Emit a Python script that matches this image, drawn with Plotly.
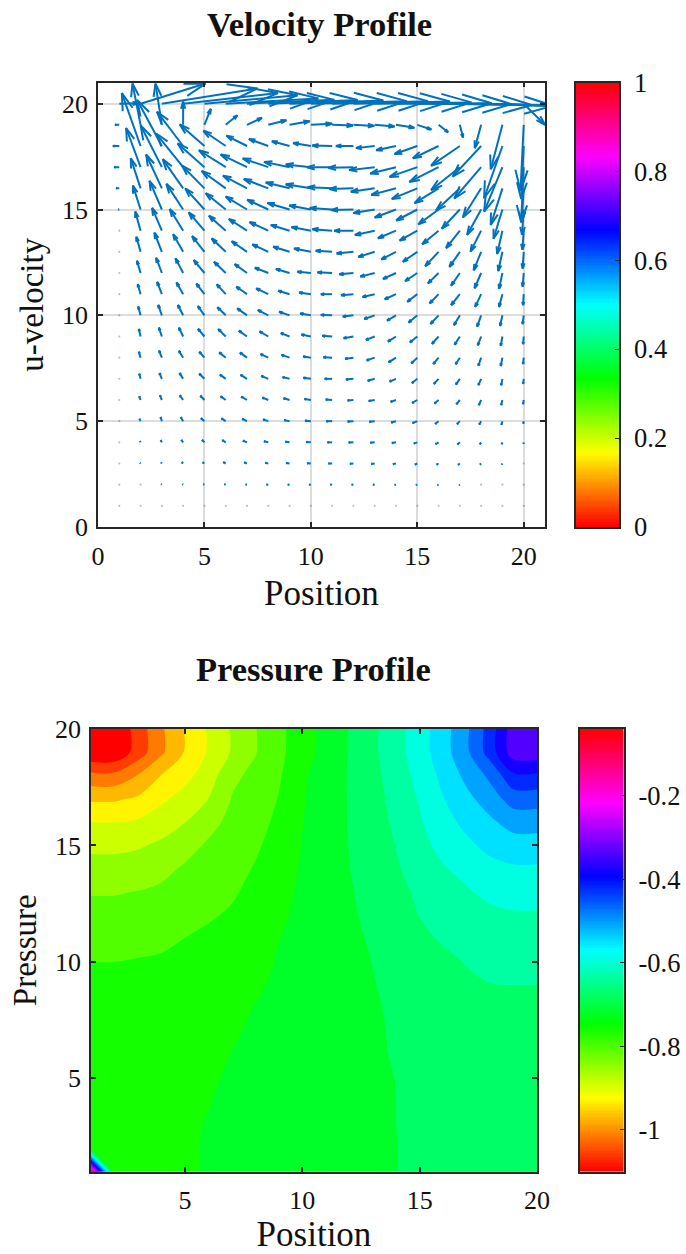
import numpy as np
import plotly.graph_objects as go

W, H = 686, 1254
FONT = "Liberation Serif"
ARROW = "#0072BD"
grid_x = list(range(1, 21))
grid_y = list(range(20, 0, -1))

u_rows = [
 [.9,3.05,4.5,4.45,4.37,4.35,4.1,4.2,4.4,4.5,4.5,4.53,4.54,4.5,4.43,4.37,4.39,4.4,4.3,1.0],
 [-.2,-.38,-.3,0,.3,.55,.7,.85,.95,1.0,.98,.98,.93,.86,.66,.45,.15,-.3,-.55,-.15],
 [-.3,-.88,-1.16,-1.23,-1.16,-1.05,-.97,-.91,-.83,-.83,-.93,-.82,-.88,-.93,-1.07,-1.21,-1.35,-1.34,-.86,-.12],
 [-.24,-.68,-1,-1.27,-1.26,-1.26,-1.24,-1.2,-1.2,-1.18,-1.18,-1.18,-1.2,-1.21,-1.3,-1.37,-1.35,-1.26,-.86,-.12],
 [-.15,-.46,-.74,-.96,-1.05,-1.13,-1.13,-1.15,-1.12,-1.18,-1.15,-1.13,-1.12,-1.16,-1.2,-1.13,-1.12,-.86,-.55,-.1],
 [-.05,-.36,-.58,-.79,-.9,-.94,-1,-.99,-1.04,-1.02,-1.05,-1.05,-1,-1,-.99,-.95,-.85,-.66,-.42,-.08],
 [0,-.25,-.46,-.63,-.74,-.79,-.85,-.88,-.88,-.91,-.93,-.9,-.93,-.85,-.83,-.77,-.65,-.5,-.25,-.06],
 [0,-.2,-.35,-.47,-.58,-.66,-.72,-.75,-.77,-.79,-.77,-.79,-.77,-.69,-.68,-.63,-.49,-.35,-.2,-.05],
 [0,-.17,-.27,-.36,-.5,-.55,-.58,-.63,-.64,-.63,-.69,-.66,-.68,-.61,-.57,-.5,-.41,-.31,-.16,-.05],
 [0,-.13,-.22,-.31,-.38,-.42,-.5,-.57,-.53,-.55,-.53,-.58,-.57,-.53,-.47,-.42,-.41,-.28,-.16,-.03],
 [0,-.11,-.17,-.25,-.31,-.39,-.46,-.49,-.49,-.5,-.53,-.5,-.49,-.42,-.41,-.38,-.28,-.19,-.11,-.05],
 [0,-.08,-.14,-.2,-.3,-.35,-.38,-.41,-.41,-.44,-.46,-.46,-.41,-.38,-.35,-.31,-.25,-.16,-.08,-.03],
 [0,-.08,-.13,-.2,-.24,-.3,-.33,-.36,-.38,-.36,-.41,-.39,-.38,-.35,-.28,-.25,-.2,-.13,-.08,-.03],
 [0,-.06,-.11,-.17,-.24,-.27,-.3,-.33,-.33,-.35,-.35,-.35,-.33,-.3,-.25,-.22,-.19,-.13,-.06,-.03],
 [0,-.06,-.09,-.16,-.19,-.24,-.27,-.28,-.28,-.3,-.3,-.27,-.28,-.25,-.24,-.19,-.16,-.11,-.06,-.03],
 [0,-.05,-.06,-.11,-.16,-.2,-.22,-.24,-.25,-.27,-.27,-.27,-.25,-.22,-.22,-.16,-.13,-.09,-.05,-.02],
 [0,-.03,-.05,-.08,-.11,-.16,-.19,-.2,-.2,-.22,-.22,-.22,-.2,-.19,-.16,-.14,-.11,-.06,-.03,-.01],
 [0,-.03,-.03,-.06,-.08,-.11,-.13,-.14,-.16,-.17,-.17,-.16,-.16,-.14,-.11,-.09,-.08,-.05,-.03,-.01],
 [0,-.02,-.03,-.03,-.05,-.06,-.06,-.08,-.08,-.08,-.08,-.08,-.08,-.06,-.06,-.05,-.03,-.02,-.01,0],
 [0]*20,
]
v_rows = [
 [.02,.95,.72,.5,.4,.25,.18,.17,.15,.12,.12,.1,.06,.02,-.02,-.06,-.1,-.15,-.2,-1.0],
 [0,1.95,1.95,1.1,.75,.45,.33,.22,.17,.05,-.03,-.05,-.08,-.14,-.22,-.35,-.6,-1.1,-2.1,-3.1],
 [0,2.5,2.17,1.62,1.02,.72,.49,.33,.22,.14,.02,0,-.1,-.2,-.38,-.58,-.93,-1.45,-2.47,-2.5],
 [0,1.85,1.98,1.59,1.12,.8,.6,.41,.25,.13,0,-.03,-.14,-.3,-.46,-.7,-1.08,-1.48,-2.1,-2.6],
 [0,1.42,1.6,1.38,1.07,.82,.6,.44,.28,.19,.05,-.03,-.16,-.31,-.5,-.7,-1.05,-1.38,-1.73,-1.6],
 [0,1.13,1.35,1.21,1.0,.77,.61,.46,.31,.19,.07,-.02,-.17,-.38,-.52,-.7,-.91,-1.2,-1.38,-1.2],
 [0,.9,1.08,1.02,.86,.71,.55,.41,.27,.17,.07,0,-.2,-.36,-.47,-.64,-.83,-.99,-1.1,-.9],
 [0,.71,.91,.83,.74,.63,.5,.35,.24,.16,.05,-.08,-.24,-.36,-.47,-.68,-.71,-.87,-.91,-.79],
 [0,.58,.72,.69,.61,.53,.42,.25,.19,.06,.03,-.06,-.17,-.28,-.38,-.49,-.6,-.72,-.75,-.64],
 [0,.47,.58,.55,.5,.46,.35,.27,.16,.08,0,-.05,-.13,-.24,-.36,-.44,-.52,-.6,-.6,-.52],
 [0,.41,.49,.49,.44,.38,.33,.25,.17,.09,.02,-.06,-.17,-.25,-.34,-.41,-.47,-.53,-.5,-.41],
 [0,.35,.42,.42,.36,.35,.28,.24,.16,.09,.03,-.08,-.16,-.24,-.28,-.35,-.39,-.42,-.44,-.36],
 [0,.28,.33,.33,.28,.25,.24,.17,.13,.05,.02,-.05,-.13,-.22,-.27,-.3,-.31,-.38,-.39,-.3],
 [0,.24,.27,.27,.24,.2,.19,.14,.08,.05,0,-.03,-.09,-.13,-.2,-.24,-.27,-.3,-.3,-.24],
 [0,.17,.22,.22,.2,.17,.16,.11,.08,.05,.02,-.02,-.05,-.09,-.14,-.17,-.2,-.24,-.24,-.19],
 [0,.11,.19,.19,.14,.13,.11,.08,.05,.02,0,-.02,-.03,-.06,-.09,-.13,-.14,-.16,-.17,-.11],
 [0,.05,.1,.11,.11,.1,.08,.05,.03,.02,0,-.01,-.02,-.03,-.06,-.08,-.1,-.09,-.08,-.06],
 [0,.02,.05,.06,.05,.06,.05,.03,.02,.01,0,-.01,-.02,-.03,-.05,-.05,-.06,-.05,-.05,-.02],
 [0,.01,.02,.02,.02,.02,.01,.01,0,0,0,0,0,-.01,-.01,-.02,-.02,-.02,-.02,-.01],
 [0]*20,
]

# Pressure read from the contour bands: 0 is the lowest contour level, each whole
# number is the next contour level up.
PRESSURE_MIN, PRESSURE_MAX, PRESSURE_STEP = -1.1, -0.04, 0.0424
band_rows = [
 [.05,.05,1.46,2.84,4.07,5.11,6.09,6.95,7.75,8.55,9.3,10.03,10.8,11.62,12.54,13.57,14.8,16.45,18.55,18.6],
 [.1,.1,1.46,2.84,4.07,5.11,6.09,6.95,7.75,8.58,9.32,10.04,10.8,11.62,12.54,13.57,14.8,16.45,18.55,18.6],
 [2.29,2.29,3.05,4.03,4.7,5.48,6.8,7.23,7.88,8.85,9.44,10.07,10.72,11.47,12.32,13.26,14.26,15.21,16.8,16.8],
 [3.86,3.86,4.14,4.81,5.37,6.01,7.04,7.45,8.04,8.92,9.47,10.06,10.65,11.31,12.09,12.96,13.73,14.52,15.45,15.45],
 [5.0,5.0,5.14,5.53,5.98,6.68,7.26,7.66,8.2,8.97,9.5,10.05,10.59,11.17,11.89,12.63,13.27,13.81,14.39,14.39],
 [5.77,5.77,5.89,6.18,6.63,7.14,7.47,7.87,8.35,9.03,9.53,10.02,10.52,11.02,11.7,12.27,12.78,13.3,13.56,13.56],
 [6.39,6.39,6.48,6.74,7.13,7.4,7.69,8.07,8.5,9.11,9.54,9.98,10.44,10.9,11.4,11.92,12.3,12.65,12.87,12.87],
 [6.94,6.94,7.03,7.18,7.42,7.66,7.91,8.2,8.66,9.18,9.55,9.91,10.32,10.75,11.15,11.52,11.89,12.25,12.36,12.36],
 [7.31,7.31,7.37,7.51,7.72,7.92,8.09,8.35,8.82,9.23,9.55,9.86,10.22,10.62,11.02,11.26,11.5,11.75,11.9,11.9],
 [7.66,7.66,7.72,7.84,8.01,8.15,8.2,8.52,8.98,9.28,9.55,9.81,10.1,10.45,10.79,11.1,11.26,11.45,11.6,11.6],
 [8.0,8.0,8.06,8.1,8.22,8.28,8.35,8.7,9.08,9.31,9.54,9.77,10.01,10.27,10.52,10.77,11.05,11.2,11.3,11.3],
 [8.12,8.12,8.2,8.3,8.38,8.45,8.55,8.88,9.15,9.36,9.56,9.76,9.97,10.15,10.32,10.5,10.82,10.98,11.0,11.0],
 [8.22,8.22,8.3,8.42,8.5,8.62,8.75,9.04,9.21,9.39,9.57,9.75,9.93,10.1,10.25,10.4,10.65,10.82,10.88,10.88],
 [8.28,8.28,8.38,8.5,8.62,8.77,8.93,9.1,9.26,9.42,9.58,9.75,9.91,10.07,10.2,10.33,10.5,10.68,10.75,10.75],
 [8.33,8.33,8.44,8.56,8.7,8.87,9.01,9.16,9.3,9.45,9.6,9.75,9.9,10.05,10.17,10.3,10.43,10.58,10.65,10.65],
 [8.35,8.35,8.47,8.6,8.76,8.93,9.07,9.2,9.34,9.47,9.6,9.73,9.87,10.01,10.14,10.27,10.4,10.52,10.58,10.58],
 [8.38,8.38,8.52,8.66,8.82,8.98,9.11,9.24,9.37,9.5,9.62,9.75,9.87,10.0,10.12,10.25,10.38,10.48,10.55,10.55],
 [8.42,8.42,8.58,8.72,8.87,9.04,9.16,9.28,9.39,9.52,9.64,9.76,9.88,10.0,10.12,10.24,10.35,10.45,10.52,10.52],
 [8.45,8.45,8.62,8.76,8.9,9.06,9.18,9.29,9.41,9.53,9.64,9.76,9.88,9.99,10.12,10.23,10.33,10.42,10.5,10.5],
 [24,8.45,8.62,8.76,8.9,9.06,9.18,9.29,9.41,9.53,9.64,9.76,9.88,9.99,10.12,10.23,10.33,10.42,10.5,10.5],
]
speed_ticks = [0, .2, .4, .6, .8, 1]
speed_labels = ["0", "0.2", "0.4", "0.6", "0.8", "1"]
pressure_ticks = [-1, -.8, -.6, -.4, -.2]
pressure_labels = ["-1", "-0.8", "-0.6", "-0.4", "-0.2"]

HSV = [[0, "#ff0000"], [1/6, "#ffff00"], [1/3, "#00ff00"], [.5, "#00ffff"],
       [2/3, "#0000ff"], [5/6, "#ff00ff"], [1, "#ff0000"]]
# contourf paints a band in the colour of its lower level; Plotly samples the band middle
S = 7.2 / 360
HSV_BANDS = [[0, "#ff0000"], [S, "#ff0000"], [1/6 + S, "#ffff00"], [1/3 + S, "#00ff00"], [.5 + S, "#00ffff"],
             [2/3 + S, "#0000ff"], [5/6 + S, "#ff00ff"], [1, "#ff0026"]]

# MATLAB-style quiver geometry
xs, ys, dot_x, dot_y = [], [], [], []
ALPHA, BETA = .31, .3
for j, ur, vr in zip(grid_y, u_rows, v_rows):
    for i, u, v in zip(grid_x, ur, vr):
        if np.hypot(u, v) < .03:
            dot_x.append(i); dot_y.append(j)
            continue
        tx, ty = i + u, j + v
        xs += [i, tx, None, tx - ALPHA*(u + BETA*v), tx, tx - ALPHA*(u - BETA*v), None]
        ys += [j, ty, None, ty - ALPHA*(v - BETA*u), ty, ty - ALPHA*(v + BETA*u), None]

def fx(a, b): return [a / W, b / W]
def fy(top, bot): return [1 - bot / H, 1 - top / H]

fig = go.Figure()
fig.add_trace(go.Scatter(x=xs, y=ys, mode="lines", line=dict(color=ARROW, width=2),
                         hoverinfo="skip", showlegend=False, xaxis="x", yaxis="y"))
fig.add_trace(go.Scatter(x=dot_x, y=dot_y, mode="markers", showlegend=False, hoverinfo="skip",
                         marker=dict(color=ARROW, size=2.2, opacity=.4), xaxis="x", yaxis="y"))
speed_scale = np.linspace(0, 1, 256)
fig.add_trace(go.Heatmap(x=[0, 1], y=speed_scale, z=[[v, v] for v in speed_scale], colorscale=HSV,
                         zmin=0, zmax=1, showscale=False, hoverinfo="skip", xaxis="x3", yaxis="y3"))

pressure = PRESSURE_MIN + PRESSURE_STEP * np.array(band_rows)
fig.add_trace(go.Contour(x=grid_x, y=grid_y, z=pressure, colorscale=HSV_BANDS, showscale=False,
    contours=dict(start=PRESSURE_MIN, end=PRESSURE_MAX, size=PRESSURE_STEP, coloring="fill", showlines=False),
    line=dict(width=0), zmin=PRESSURE_MIN, zmax=PRESSURE_MAX, xaxis="x2", yaxis="y2", hoverinfo="skip"))
pressure_scale = np.linspace(PRESSURE_MIN, PRESSURE_MAX, 256)
fig.add_trace(go.Heatmap(x=[0, 1], y=pressure_scale, z=[[v, v] for v in pressure_scale], colorscale=HSV,
                         zmin=PRESSURE_MIN, zmax=PRESSURE_MAX, showscale=False, hoverinfo="skip", xaxis="x4", yaxis="y4"))

ax = dict(showline=True, linecolor="#262626", linewidth=1.5, mirror="allticks", ticks="inside",
          ticklen=5, tickwidth=1.5, tickcolor="#262626", zeroline=False,
          tickfont=dict(family=FONT, size=26, color="#111"))
xax = dict(ax, ticklabelstandoff=5)
yax = dict(ax, ticklabelstandoff=3)
tf = dict(family=FONT, size=33, color="#111")
tfx = dict(family=FONT, size=35, color="#111")
bar_x = dict(showline=True, linecolor="#262626", linewidth=1.5, mirror=True, ticks="", showticklabels=False,
             showgrid=False, zeroline=False, range=[0, 1])
bar_y = dict(showline=True, linecolor="#262626", linewidth=1.5, mirror=True, ticks="inside", ticklen=4,
             tickwidth=1, tickcolor="#262626", showgrid=False, zeroline=False, side="right",
             ticklabelstandoff=8, tickfont=dict(family=FONT, size=26.5, color="#111"))
fig.update_layout(
    width=W, height=H, autosize=False, margin=dict(l=0, r=0, t=0, b=0, pad=0, autoexpand=False),
    paper_bgcolor="white", plot_bgcolor="white", showlegend=False,
    xaxis=dict(xax, domain=fx(98, 545), range=[0, 21], tickvals=[0, 5, 10, 15, 20], showgrid=True,
               gridcolor="#dcdcdc", gridwidth=1.5, anchor="y",
               title=dict(text="Position", font=tfx, standoff=11)),
    yaxis=dict(yax, domain=fy(82.5, 527), range=[0, 21], tickvals=[0, 5, 10, 15, 20], showgrid=True,
               gridcolor="#dcdcdc", gridwidth=1.5, anchor="x",
               title=dict(text="u-velocity", font=tf, standoff=8)),
    xaxis2=dict(xax, domain=fx(91, 537), range=[1, 20], tickvals=[5, 10, 15, 20], showgrid=False, anchor="y2",
                title=dict(text="Position", font=tfx, standoff=16)),
    yaxis2=dict(yax, domain=fy(729, 1171.5), range=[1, 20], tickvals=[5, 10, 15, 20], showgrid=False, anchor="x2",
                title=dict(text="Pressure", font=tf, standoff=8)),
    xaxis3=dict(bar_x, domain=fx(576, 619), anchor="y3"),
    yaxis3=dict(bar_y, domain=fy(82.5, 527), range=[0, 1], anchor="x3", tickmode="array",
                tickvals=speed_ticks, ticktext=speed_labels),
    xaxis4=dict(bar_x, domain=fx(579.5, 623.5), anchor="y4"),
    yaxis4=dict(bar_y, domain=fy(729, 1171.5), range=[PRESSURE_MIN, PRESSURE_MAX], anchor="x4", tickmode="array",
                tickvals=pressure_ticks, ticktext=pressure_labels),
    annotations=[
        dict(text="<b>Velocity Profile</b>", x=319/W, y=1-24/H, xref="paper", yref="paper",
             xanchor="center", yanchor="middle", showarrow=False, font=dict(family=FONT, size=34.5, color="#111")),
        dict(text="<b>Pressure Profile</b>", x=313/W, y=1-669/H, xref="paper", yref="paper",
             xanchor="center", yanchor="middle", showarrow=False, font=dict(family=FONT, size=34.5, color="#111")),
    ],
)
fig.write_html("out.html", post_script="document.body.style.margin='0';", config={"displayModeBar": False})
